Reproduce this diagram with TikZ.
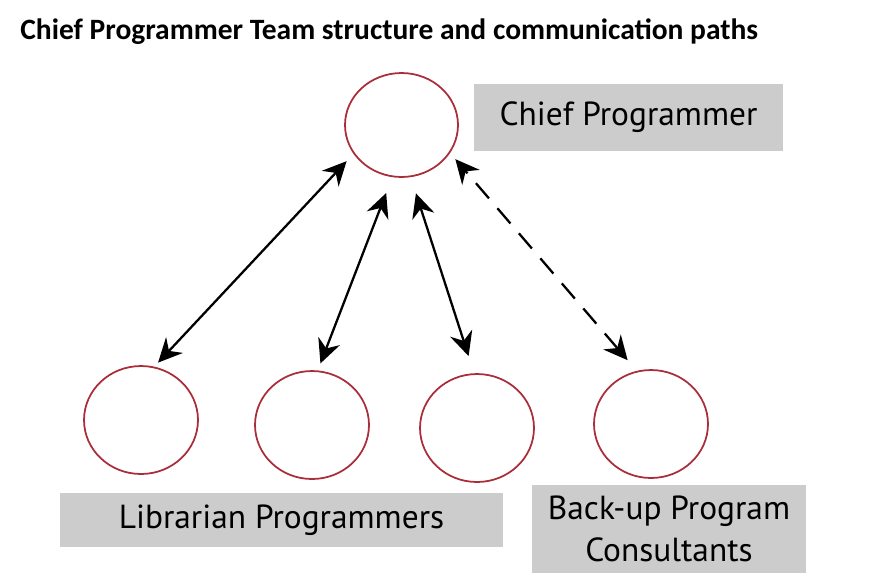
\documentclass[tikz,border=0pt]{standalone}
\usepackage{fontspec}
\setmainfont{PT Sans}
\newfontfamily\titlefont{Carlito}
\usetikzlibrary{arrows.meta,shapes.geometric}

\definecolor{ringred}{RGB}{170,45,58}
\definecolor{tagfill}{RGB}{204,204,204}

\begin{document}
\begin{tikzpicture}[
    x=0.02cm, y=-0.02cm,
    member/.style={ellipse, draw=ringred, line width=1pt, minimum width=2.28cm, minimum height=2.16cm, inner sep=0pt},
    tagbox/.style={rectangle, fill=tagfill, align=center, inner sep=0pt, font=\fontsize{19}{24}\selectfont},
    link/.style={<->, >={Stealth[length=4.8mm, width=4.6mm, inset=1.6mm]}, line width=1.3pt},
    backlink/.style={link, dash pattern=on 0.4cm off 0.26cm}
]
    \useasboundingbox (0,0) rectangle (878,579);

    % Title
    \node[anchor=west, inner sep=0pt, font=\titlefont\bfseries\fontsize{16.8}{20}\selectfont] (title) at (20,32) {Chief Programmer Team structure and communication paths};

    % Chief
    \node[member, minimum width=2.26cm, minimum height=2.08cm] (chief) at (401.5,125) {};
    \node[tagbox, minimum width=6.18cm, minimum height=1.34cm] (chieftag) at (628.5,117.5) {Chief Programmer};

    % Team members
    \node[member] (lib1) at (141,420) {};
    \node[member] (lib2) at (312,425) {};
    \node[member] (lib3) at (477,428) {};
    \node[member] (backup) at (651,424) {};

    % Labels
    \node[tagbox, minimum width=8.86cm, minimum height=1.08cm] (libtag) at (281.5,520) {Librarian Programmers};
    \node[tagbox, minimum width=5.48cm, minimum height=1.76cm] (backtag) at (669,529) {Back-up Program\\Consultants};

    % Communication paths
    \draw[link, shorten <=0.11cm, shorten >=0.2cm] (lib1.76) -- (chief.211);
    \draw[link, shorten <=0.15cm, shorten >=0.34cm] (lib2.84) -- (chief.260);
    \draw[link, shorten <=0.36cm, shorten >=0.34cm] (lib3.93) -- (chief.280);
    \draw[backlink, shorten <=0.28cm, shorten >=0.16cm] (backup.105) -- (chief.330);
\end{tikzpicture}
\end{document}
